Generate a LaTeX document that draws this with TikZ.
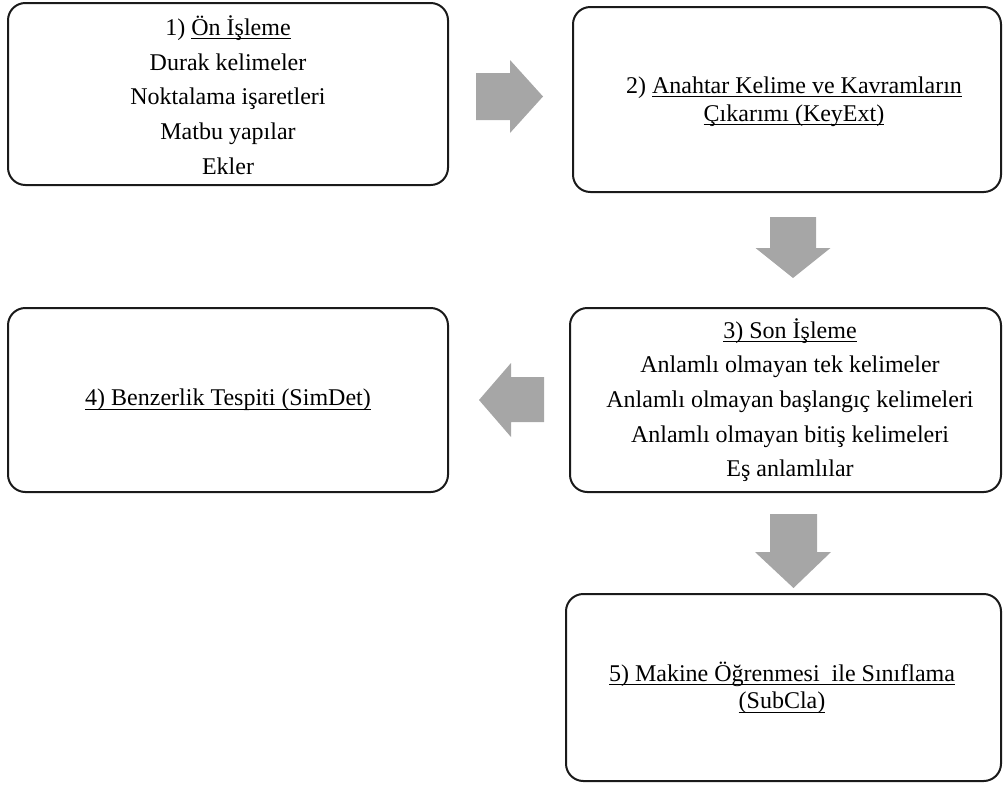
\documentclass[tikz,border=0pt]{standalone}
\usepackage{fontspec}
\setmainfont{Liberation Serif}
\definecolor{arrowgray}{HTML}{A6A6A6}
\definecolor{boxline}{HTML}{1A1A1A}
\newlength\ulwd
\newcommand\ulx[1]{\settowidth\ulwd{#1}\rlap{\rule[-3pt]{\ulwd}{0.85pt}}#1}
\begin{document}
\begin{tikzpicture}[x=0.75pt,y=-0.75pt,
  box/.style={draw=boxline, line width=1.5pt, rounded corners=13pt, inner sep=0pt},
  txt/.style={align=center, font=\fontsize{18}{20.7}\selectfont, inner sep=0pt},
  lst/.style={align=center, font=\fontsize{18}{26}\selectfont, inner sep=0pt},
  blk/.style={fill=arrowgray, draw=none}]

\useasboundingbox (0,0) rectangle (1003,785);

% boxes
\node[box, minimum width=330pt, minimum height=136.5pt] (b1) at (228,94) {};
\node[box, minimum width=321pt, minimum height=138.75pt] (b2) at (787,99.5) {};
\node[box, minimum width=323.25pt, minimum height=138pt] (b3) at (785.5,400) {};
\node[box, minimum width=330pt, minimum height=138pt] (b4) at (228,400) {};
\node[box, minimum width=326.25pt, minimum height=140.25pt] (b5) at (783.5,687.5) {};

% texts
\node[lst] (t1) at (228,95) {1) \ulx{Ön İşleme}\\Durak kelimeler\\Noktalama işaretleri\\Matbu yapılar\\Ekler};
\node[txt] (t2) at (794,101.5) {2) \ulx{Anahtar Kelime ve Kavramların}\\\ulx{Çıkarımı (KeyExt)}};
\node[lst] (t3) at (790,400) {\ulx{3) Son İşleme}\\Anlamlı olmayan tek kelimeler\\Anlamlı olmayan başlangıç kelimeleri\\Anlamlı olmayan bitiş kelimeleri\\Eş anlamlılar};
\node[txt] (t4) at (228,400) {\ulx{4) Benzerlik Tespiti (SimDet)}};
\node[txt] (t5) at (782,688) {\ulx{5) Makine Öğrenmesi\ \ ile Sınıflama}\\\ulx{(SubCla)}};

% block arrows
\fill[blk] (476,73) -- (510,73) -- (510,60) -- (543,96.5) -- (510,133) -- (510,120) -- (476,120) -- cycle;
\fill[blk] (770,217) -- (816,217) -- (816,248) -- (830.5,248) -- (793,278) -- (755.5,248) -- (770,248) -- cycle;
\fill[blk] (544,377) -- (511,377) -- (511,363) -- (479,400) -- (511,437) -- (511,422) -- (544,422) -- cycle;
\fill[blk] (770,514) -- (817,514) -- (817,552) -- (831,552) -- (793.5,588) -- (755,552) -- (770,552) -- cycle;
\end{tikzpicture}
\end{document}
